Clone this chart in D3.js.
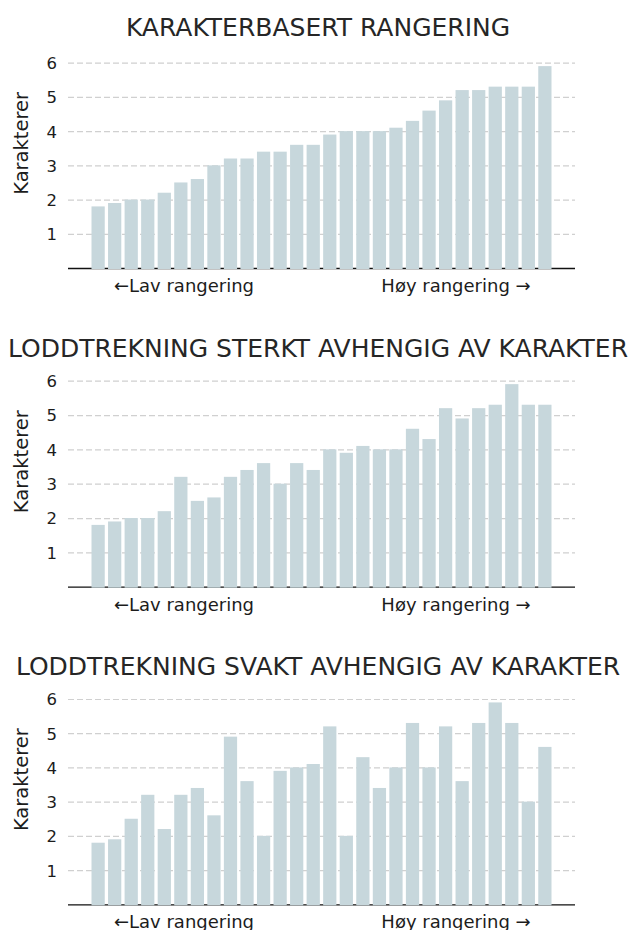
<!DOCTYPE html>
<html>
<head>
<meta charset="utf-8">
<script src="https://cdn.jsdelivr.net/npm/d3@7"></script>
<style>
  html, body { margin: 0; padding: 0; background: #fff; }
  svg { display: block; font-family: "DejaVu Sans", "Noto Sans", sans-serif; }
</style>
</head>
<body>
<svg id="chart" width="633" height="930"></svg>
<script>
// ---- data ----
const titles = [
  "KARAKTERBASERT RANGERING",
  "LODDTREKNING STERKT AVHENGIG AV KARAKTER",
  "LODDTREKNING SVAKT AVHENGIG AV KARAKTER"
];
const valuesRanked = [1.8, 1.9, 2.0, 2.0, 2.2, 2.5, 2.6, 3.0, 3.2, 3.2, 3.4, 3.4, 3.6, 3.6,
  3.9, 4.0, 4.0, 4.0, 4.1, 4.3, 4.6, 4.9, 5.2, 5.2, 5.3, 5.3, 5.3, 5.9];
const valuesStrong = [1.8, 1.9, 2.0, 2.0, 2.2, 3.2, 2.5, 2.6, 3.2, 3.4, 3.6, 3.0, 3.6, 3.4,
  4.0, 3.9, 4.1, 4.0, 4.0, 4.6, 4.3, 5.2, 4.9, 5.2, 5.3, 5.9, 5.3, 5.3];
const valuesWeak = [1.8, 1.9, 2.5, 3.2, 2.2, 3.2, 3.4, 2.6, 4.9, 3.6, 2.0, 3.9, 4.0, 4.1,
  5.2, 2.0, 4.3, 3.4, 4.0, 5.3, 4.0, 5.2, 3.6, 5.3, 5.9, 5.3, 3.0, 4.6];
const yTicks = [1, 2, 3, 4, 5, 6];
const yLabel = "Karakterer";
const lowLabel = "\u2190Lav rangering";
const highLabel = "H\u00f8y rangering \u2192";

const series = [valuesRanked, valuesStrong, valuesWeak];

// ---- layout ----
const svg = d3.select("#chart");
const left = 68, right = 575;
const panelTops = [62.7, 380.7, 699];
const panelBottoms = [268, 586.7, 904.3];
const titleBaselines = [35.5, 356.5, 675];
const barColor = "#c7d7dc";
const ink = "#1c1c1c";

series.forEach((vals, i) => {
  const g = svg.append("g");
  const x = d3.scaleBand()
    .domain(d3.range(vals.length))
    .range([left, right])
    .paddingInner(0.2)
    .paddingOuter(1.42);
  const y = d3.scaleLinear().domain([0, 6]).range([panelBottoms[i], panelTops[i]]);

  // title
  g.append("text")
    .attr("x", 318).attr("y", titleBaselines[i])
    .attr("text-anchor", "middle")
    .attr("font-size", 25)
    .attr("fill", "#262626")
    .text(titles[i]);

  // gridlines + tick labels
  const yAxis = d3.axisLeft(y).tickValues(yTicks).tickSize(-(right - left)).tickFormat(d3.format("d"));
  const ga = g.append("g").attr("transform", `translate(${left},0)`).call(yAxis);
  ga.select(".domain").remove();
  ga.selectAll(".tick line")
    .attr("stroke", "#d0d0d0")
    .attr("stroke-width", 1.2)
    .attr("stroke-dasharray", "6,3");
  ga.selectAll(".tick text")
    .attr("x", -11)
    .attr("dy", "0.36em")
    .attr("font-size", 16.5)
    .attr("font-family", "DejaVu Sans, sans-serif")
    .attr("fill", ink);

  // baseline axis
  g.append("line")
    .attr("x1", left).attr("x2", right)
    .attr("y1", y(0) + 0.5).attr("y2", y(0) + 0.5)
    .attr("stroke", "#111").attr("stroke-width", 1.3);

  // bars
  g.selectAll("rect.bar").data(vals).join("rect")
    .attr("class", "bar")
    .attr("x", (d, j) => x(j))
    .attr("width", x.bandwidth())
    .attr("y", d => y(d))
    .attr("height", d => y(0) - y(d) + 1)
    .attr("fill", barColor);

  // y label
  const midY = (panelTops[i] + panelBottoms[i]) / 2 - 22;
  g.append("text")
    .attr("transform", `translate(28,${midY}) rotate(-90)`)
    .attr("text-anchor", "middle")
    .attr("font-size", 19.5)
    .attr("fill", ink)
    .text(yLabel);

  // x labels
  g.append("text")
    .attr("x", 184).attr("y", y(0) + 24)
    .attr("text-anchor", "middle")
    .attr("font-size", 18)
    .attr("fill", ink)
    .text(lowLabel);
  g.append("text")
    .attr("x", 456).attr("y", y(0) + 24)
    .attr("text-anchor", "middle")
    .attr("font-size", 18)
    .attr("fill", ink)
    .text(highLabel);
});
</script>
</body>
</html>
